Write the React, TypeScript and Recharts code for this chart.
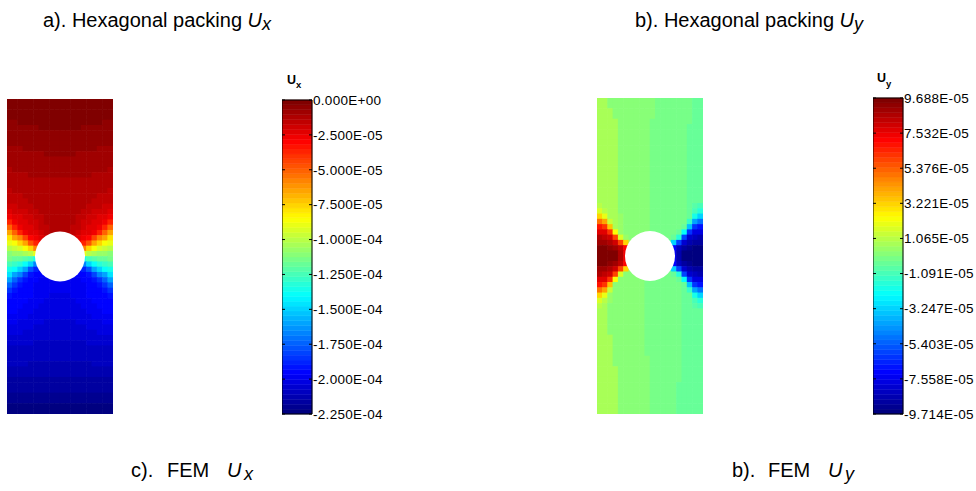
import React from 'react';
import { ScatterChart, Scatter, XAxis, YAxis, ReferenceArea } from 'recharts';

const _ = null;

// jet colour level (0 = darkest blue, 63 = darkest red) of every mesh cell, top row first
const uxLevels: (number | null)[][] = [
  [63,63,63,63,63,63,63,63,63,63,63,63,63,63,63,63,63,63,63,63],
  [63,63,63,63,63,63,63,63,63,63,63,63,63,63,63,63,63,63,63,63],
  [63,63,63,63,63,63,63,63,63,63,63,63,63,63,63,63,63,63,63,63],
  [63,63,63,63,63,63,63,63,63,63,63,63,63,63,63,63,63,63,63,63],
  [62,62,63,63,63,63,63,63,63,63,63,63,63,63,63,63,63,63,62,62],
  [62,62,62,62,62,62,63,63,63,63,63,63,63,63,62,62,62,62,62,62],
  [62,62,62,62,62,62,62,62,62,62,62,62,62,62,62,62,62,62,62,62],
  [62,62,62,62,62,62,62,62,62,62,62,62,62,62,62,62,62,62,62,62],
  [62,62,62,62,62,62,62,62,62,62,62,62,62,62,62,62,62,62,62,62],
  [61,61,61,62,62,62,62,62,62,62,62,62,62,62,62,62,62,61,61,61],
  [61,61,61,61,61,61,61,62,62,62,62,62,62,61,61,61,61,61,61,61],
  [61,61,61,61,61,61,61,61,61,61,61,61,61,61,61,61,61,61,61,61],
  [61,61,61,61,61,61,61,61,61,61,61,61,61,61,61,61,61,61,61,61],
  [60,61,61,61,61,61,61,61,61,61,61,61,61,61,61,61,61,61,61,60],
  [60,60,60,60,61,61,61,61,61,61,61,61,61,61,61,61,60,60,60,60],
  [60,60,60,60,60,60,60,60,60,60,60,60,60,60,60,60,60,60,60,60],
  [60,60,60,60,60,60,60,60,60,60,60,60,60,60,60,60,60,60,60,60],
  [59,60,60,60,60,60,60,60,60,60,60,60,60,60,60,60,60,60,60,59],
  [59,59,59,60,60,60,60,60,60,60,60,60,60,60,60,60,60,59,59,59],
  [59,59,59,59,60,60,60,60,60,60,60,60,60,60,60,60,59,59,59,59],
  [58,58,59,59,59,60,60,60,60,60,60,60,60,60,60,59,59,59,58,58],
  [57,58,58,58,59,59,60,60,60,60,60,60,60,60,59,59,58,58,58,57],
  [56,57,57,58,58,59,59,60,60,60,60,60,60,59,59,58,58,57,57,56],
  [53,56,57,57,58,58,59,60,60,60,60,60,60,59,58,58,57,57,56,53],
  [49,53,56,57,57,58,59,59,60,60,60,60,59,59,58,57,57,56,53,49],
  [45,49,53,56,57,57,58,59,60,60,60,60,59,58,57,57,56,53,49,45],
  [41,45,47,51,55,56,57,58, _, _, _, _,58,57,56,55,51,47,45,41],
  [38,39,42,45,50,53,55, _, _, _, _, _, _,55,53,50,45,42,39,38],
  [35,36,37,39,42,47, _, _, _, _, _, _, _, _,47,42,39,37,36,35],
  [32,33,33,34,35,38, _, _, _, _, _, _, _, _,38,35,34,33,33,32],
  [31,30,30,29,28,25, _, _, _, _, _, _, _, _,25,28,29,30,30,31],
  [28,27,26,24,21,16, _, _, _, _, _, _, _, _,16,21,24,26,27,28],
  [25,24,21,18,13,10, 8, _, _, _, _, _, _, 8,10,13,18,21,24,25],
  [22,18,16,12, 9, 8, 8, 7, _, _, _, _, 7, 8, 8, 9,12,16,18,22],
  [18,14,11, 9, 8, 8, 7, 7, 7, 7, 7, 7, 7, 7, 8, 8, 9,11,14,18],
  [14,11, 9, 8, 8, 7, 7, 7, 7, 7, 7, 7, 7, 7, 7, 8, 8, 9,11,14],
  [11, 9, 8, 8, 8, 7, 7, 7, 7, 7, 7, 7, 7, 7, 7, 8, 8, 8, 9,11],
  [ 9, 8, 8, 8, 8, 7, 7, 7, 6, 6, 6, 6, 7, 7, 7, 8, 8, 8, 8, 9],
  [ 8, 8, 8, 8, 7, 7, 7, 6, 6, 6, 6, 6, 6, 7, 7, 7, 8, 8, 8, 8],
  [ 8, 8, 8, 7, 7, 7, 6, 6, 6, 6, 6, 6, 6, 6, 7, 7, 7, 8, 8, 8],
  [ 8, 8, 7, 7, 7, 6, 6, 6, 6, 6, 6, 6, 6, 6, 6, 7, 7, 7, 8, 8],
  [ 7, 7, 7, 7, 6, 6, 6, 6, 6, 6, 6, 6, 6, 6, 6, 6, 7, 7, 7, 7],
  [ 7, 7, 6, 6, 6, 6, 6, 5, 5, 5, 5, 5, 5, 6, 6, 6, 6, 6, 7, 7],
  [ 6, 6, 6, 6, 6, 5, 5, 5, 5, 5, 5, 5, 5, 5, 5, 6, 6, 6, 6, 6],
  [ 6, 6, 6, 5, 5, 5, 5, 5, 5, 5, 5, 5, 5, 5, 5, 5, 5, 6, 6, 6],
  [ 5, 5, 5, 5, 5, 5, 5, 5, 5, 5, 5, 5, 5, 5, 5, 5, 5, 5, 5, 5],
  [ 5, 5, 5, 5, 5, 4, 4, 4, 4, 4, 4, 4, 4, 4, 4, 5, 5, 5, 5, 5],
  [ 4, 4, 4, 4, 4, 4, 4, 4, 4, 4, 4, 4, 4, 4, 4, 4, 4, 4, 4, 4],
  [ 4, 4, 4, 4, 4, 4, 4, 4, 4, 4, 4, 4, 4, 4, 4, 4, 4, 4, 4, 4],
  [ 4, 4, 4, 4, 4, 4, 4, 4, 4, 4, 4, 4, 4, 4, 4, 4, 4, 4, 4, 4],
  [ 4, 4, 4, 4, 3, 3, 3, 3, 3, 3, 3, 3, 3, 3, 3, 3, 4, 4, 4, 4],
  [ 3, 3, 3, 3, 3, 3, 3, 3, 3, 3, 3, 3, 3, 3, 3, 3, 3, 3, 3, 3],
  [ 3, 3, 3, 3, 3, 3, 3, 3, 3, 3, 3, 3, 3, 3, 3, 3, 3, 3, 3, 3],
  [ 2, 2, 2, 2, 2, 2, 2, 2, 2, 2, 2, 2, 2, 2, 2, 2, 2, 2, 2, 2],
  [ 2, 2, 2, 2, 2, 2, 2, 2, 2, 2, 2, 2, 2, 2, 2, 2, 2, 2, 2, 2],
  [ 2, 2, 2, 2, 2, 2, 2, 2, 2, 2, 2, 2, 2, 2, 2, 2, 2, 2, 2, 2],
  [ 1, 1, 1, 1, 1, 1, 1, 1, 1, 1, 1, 1, 1, 1, 1, 1, 1, 1, 1, 1],
  [ 1, 1, 1, 1, 1, 1, 1, 1, 1, 1, 1, 1, 1, 1, 1, 1, 1, 1, 1, 1],
  [ 0, 0, 0, 0, 0, 0, 0, 0, 0, 0, 0, 0, 0, 0, 0, 0, 0, 0, 0, 0],
  [ 0, 0, 0, 0, 0, 0, 0, 0, 0, 0, 0, 0, 0, 0, 0, 0, 0, 0, 0, 0],
];

const uyLevels: (number | null)[][] = [
  [34,34,32,32,32,32,32,32,32,32,32,31,31,31,31,31,31,31,30,30],
  [34,34,32,32,32,32,32,32,32,32,32,31,31,31,31,31,31,31,30,30],
  [34,34,34,32,32,32,32,32,32,32,32,31,31,31,31,31,31,31,30,30],
  [34,34,34,32,32,32,32,32,32,32,32,31,31,31,31,31,31,31,30,30],
  [34,34,34,34,32,32,32,32,32,32,31,31,31,31,31,31,31,31,30,30],
  [34,34,34,34,32,32,32,32,32,32,31,31,31,31,31,31,31,30,30,30],
  [34,34,34,34,32,32,32,32,32,32,31,31,31,31,31,31,31,30,30,30],
  [34,34,34,34,32,32,32,32,32,32,31,31,31,31,31,31,31,30,30,30],
  [34,34,34,34,32,32,32,32,32,32,31,31,31,31,31,31,31,30,30,30],
  [34,34,34,34,32,32,32,32,32,32,31,31,31,31,31,31,31,30,30,30],
  [34,34,34,34,32,32,32,32,32,32,31,31,31,31,31,31,31,30,30,30],
  [34,34,34,34,32,32,32,32,32,32,31,31,31,31,31,31,31,30,30,30],
  [34,34,34,34,32,32,32,32,32,32,31,31,31,31,31,31,31,30,30,30],
  [34,34,34,34,32,32,32,32,32,32,31,31,31,31,31,31,31,30,30,30],
  [34,34,34,34,32,32,32,32,32,32,31,31,31,31,31,31,31,30,30,30],
  [34,34,34,34,32,32,32,32,32,32,31,31,31,31,31,31,31,30,30,30],
  [34,34,34,34,32,32,32,32,32,32,31,31,31,31,31,31,31,30,30,30],
  [34,34,34,34,32,32,32,32,32,32,31,31,31,31,31,31,31,30,30,30],
  [34,34,34,34,32,32,32,32,32,32,31,31,31,31,31,31,31,30,30,30],
  [34,34,34,34,32,32,32,32,32,32,31,31,31,31,31,31,31,30,30,30],
  [35,34,34,34,32,32,32,32,32,32,31,31,31,31,31,31,31,30,29,28],
  [37,35,34,34,32,32,32,32,32,32,31,31,31,31,31,31,31,30,28,26],
  [42,38,34,34,33,32,32,32,32,32,31,31,31,31,31,31,31,30,25,21],
  [48,45,36,34,33,32,32,32,32,32,31,31,31,31,31,31,31,27,18,15],
  [54,52,43,34,33,32,32,32,32,32,31,31,31,31,31,31,30,20,11, 9],
  [57,57,52,39,33,32,32,32,32,32,31,31,31,31,31,30,24,11, 6, 6],
  [60,59,58,51,37,33,32,32, _, _, _, _,31,31,30,26,12, 5, 4, 3],
  [61,61,60,58,51,42,33, _, _, _, _, _, _,30,21,12, 5, 3, 2, 2],
  [63,63,62,61,59,55, _, _, _, _, _, _, _, _, 8, 4, 2, 1, 0, 0],
  [63,63,63,63,60,56, _, _, _, _, _, _, _, _, 7, 3, 0, 0, 0, 0],
  [63,63,63,63,60,56, _, _, _, _, _, _, _, _, 7, 3, 0, 0, 0, 0],
  [63,63,62,61,59,55, _, _, _, _, _, _, _, _, 8, 4, 2, 1, 0, 0],
  [61,61,60,58,51,42,33, _, _, _, _, _, _,30,21,12, 5, 3, 2, 2],
  [60,59,58,51,37,32,32,32, _, _, _, _,31,31,30,26,12, 5, 4, 3],
  [57,57,52,39,32,32,32,32,32,31,31,31,31,31,31,30,24,11, 6, 6],
  [54,52,43,32,32,32,32,32,32,31,31,31,31,31,31,31,30,20,11, 9],
  [48,45,36,32,32,32,32,32,32,31,31,31,31,31,31,31,30,27,18,15],
  [42,38,33,32,32,32,32,32,32,31,31,31,31,31,31,31,30,30,25,21],
  [37,35,33,32,32,32,32,32,32,31,31,31,31,31,31,31,30,30,28,26],
  [35,34,32,32,32,32,32,32,32,31,31,31,31,31,31,31,30,30,29,28],
  [34,34,32,32,32,32,32,32,32,31,31,31,31,31,31,31,30,30,30,30],
  [34,34,32,32,32,32,32,32,32,31,31,31,31,31,31,31,30,30,30,30],
  [34,34,32,32,32,32,32,32,32,31,31,31,31,31,31,31,30,30,30,30],
  [34,34,32,32,32,32,32,32,32,31,31,31,31,31,31,31,30,30,30,30],
  [34,34,32,32,32,32,32,32,32,31,31,31,31,31,31,31,30,30,30,30],
  [34,34,34,32,32,32,32,32,32,31,31,31,31,31,31,31,30,30,30,30],
  [34,34,34,32,32,32,32,32,32,31,31,31,31,31,31,31,30,30,30,30],
  [34,34,34,32,32,32,32,32,32,31,31,31,31,31,31,31,30,30,30,30],
  [34,34,34,32,32,32,32,32,32,31,31,31,31,31,31,31,30,30,30,30],
  [34,34,34,32,32,32,32,32,32,32,31,31,31,31,31,31,30,30,30,30],
  [34,34,34,32,32,32,32,32,32,32,31,31,31,31,31,31,30,30,30,30],
  [34,34,34,34,32,32,32,32,32,32,31,31,31,31,31,31,30,30,30,30],
  [34,34,34,34,32,32,32,32,32,32,31,31,31,31,31,31,30,30,30,30],
  [34,34,34,34,32,32,32,32,32,32,31,31,31,31,31,31,30,30,30,30],
  [34,34,34,34,32,32,32,32,32,32,31,31,31,31,31,30,30,30,30,30],
  [34,34,34,34,32,32,32,32,32,32,31,31,31,31,31,30,30,30,30,30],
  [34,34,34,34,32,32,32,32,32,32,31,31,31,31,31,30,30,30,30,30],
  [34,34,34,34,32,32,32,32,32,32,31,31,31,31,31,30,30,30,30,30],
  [34,34,34,34,32,32,32,32,32,32,31,31,31,31,31,30,30,30,30,30],
  [34,34,34,34,32,32,32,32,32,32,31,31,31,31,31,30,30,30,30,30],
];

const uxRange: [number, number] = [-2.25e-4, 0];
const uyRange: [number, number] = [-9.714e-5, 9.688e-5];
const uxTicks = [0, -2.5e-5, -5.0e-5, -7.5e-5, -1.0e-4, -1.25e-4, -1.5e-4, -1.75e-4, -2.0e-4, -2.25e-4];
const uyTicks = [9.688e-5, 7.532e-5, 5.376e-5, 3.221e-5, 1.065e-5, -1.091e-5, -3.247e-5, -5.403e-5, -7.558e-5, -9.714e-5];

const LEVELS = 64;
const COLS = 20;
const ROWS = 60;
// hole centre and radius, in mesh cells
const hole = { x: 10, y: 30, r: 4.72 };

const FONT = '"Liberation Sans", Arial, Helvetica, sans-serif';
const BAR_W = 30;

const jet = (t: number) => {
  const ch = (v: number) => Math.round(255 * Math.min(1, Math.max(0, v)));
  return `rgb(${ch(1.5 - Math.abs(4 * t - 3))},${ch(1.5 - Math.abs(4 * t - 2))},${ch(1.5 - Math.abs(4 * t - 1))})`;
};
const levelColor = (level: number) => jet(level / (LEVELS - 1));

const sci = (v: number) => {
  const [m, e] = v.toExponential(3).split('e');
  const n = Number(e);
  return `${m}E${n < 0 ? '-' : '+'}${String(Math.abs(n)).padStart(2, '0')}`;
};

const Field = ({ levels, width, height }: { levels: (number | null)[][]; width: number; height: number }) => {
  const cw = width / COLS;
  const chH = height / ROWS;
  const cells: { x: number; y: number; level: number }[] = [];
  levels.forEach((row, r) =>
    row.forEach((level, c) => {
      if (level !== null) cells.push({ x: c + 0.5, y: r + 0.5, level });
    })
  );
  const cellShape = (p: any) => (
    <rect
      x={p.cx - cw / 2 - 0.3}
      y={p.cy - chH / 2 - 0.3}
      width={cw + 0.6}
      height={chH + 0.6}
      fill={levelColor(p.payload.level)}
    />
  );
  const holeShape = (p: any) => <circle cx={p.cx} cy={p.cy} r={hole.r * cw} fill="#fff" />;
  return (
    <ScatterChart width={width} height={height} margin={{ top: 0, right: 0, bottom: 0, left: 0 }}>
      <XAxis type="number" dataKey="x" domain={[0, COLS]} hide />
      <YAxis type="number" dataKey="y" domain={[0, ROWS]} reversed hide />
      <Scatter data={cells} shape={cellShape} isAnimationActive={false} />
      <Scatter data={[hole]} shape={holeShape} isAnimationActive={false} />
    </ScatterChart>
  );
};

const Colorbar = ({ range, ticks, height }: { range: [number, number]; ticks: number[]; height: number }) => {
  const [lo, hi] = range;
  const step = (hi - lo) / LEVELS;
  const bands = Array.from({ length: LEVELS }, (__, i) => i);
  const ends = [{ x: 0, y: lo }, { x: 1, y: hi }];
  const tick = (p: any) => {
    const left = p.x - 1 - BAR_W;
    return (
      <g>
        <line x1={left} x2={left + 3} y1={p.y} y2={p.y} stroke="#000" strokeWidth={1} />
        <line x1={p.x - 4} x2={p.x - 1} y1={p.y} y2={p.y} stroke="#000" strokeWidth={1} />
        <text x={p.x} y={p.y} dy="0.355em" fontSize={13.5} letterSpacing={0.3} fontFamily={FONT} fill="#000">
          {sci(p.payload.value)}
        </text>
      </g>
    );
  };
  return (
    <ScatterChart width={BAR_W + 80} height={height + 20} margin={{ top: 10, right: 0, bottom: 10, left: 0 }}>
      <XAxis type="number" dataKey="x" domain={[0, 1]} hide />
      <YAxis
        type="number"
        dataKey="y"
        orientation="right"
        domain={[lo, hi]}
        ticks={ticks}
        interval={0}
        width={80}
        axisLine={false}
        tickLine={false}
        tickSize={0}
        tickMargin={1}
        tick={tick}
      />
      <Scatter data={ends} shape={() => <g />} isAnimationActive={false} />
      {bands.map((i) => (
        <ReferenceArea
          key={i}
          x1={0}
          x2={1}
          y1={lo + i * step}
          y2={lo + (i + 1) * step}
          fill={levelColor(i)}
          fillOpacity={1}
          stroke={levelColor(i)}
          strokeWidth={0.5}
        />
      ))}
      <ReferenceArea x1={0} x2={1} y1={lo} y2={hi} fill="none" stroke="#000" strokeWidth={1} />
    </ScatterChart>
  );
};

const abs = (left: number, top: number): React.CSSProperties => ({ position: 'absolute', left, top });

export default function App() {
  return (
    <div style={{ position: 'absolute', left: 0, top: 0, width: 976, height: 491, background: '#fff', overflow: 'hidden' }}>
      <div style={abs(7, 99)}>
        <Field levels={uxLevels} width={106} height={315} />
      </div>
      <div style={abs(282, 90)}>
        <Colorbar range={uxRange} ticks={uxTicks} height={314} />
      </div>
      <div style={abs(597, 98)}>
        <Field levels={uyLevels} width={106} height={316} />
      </div>
      <div style={abs(873, 88)}>
        <Colorbar range={uyRange} ticks={uyTicks} height={316} />
      </div>
      <svg width={976} height={491} style={{ position: 'absolute', left: 0, top: 0, pointerEvents: 'none' }} fontFamily={FONT}>
        <text x={43} y={27} fontSize={20}>
          a). Hexagonal packing <tspan fontStyle="italic">U</tspan>
          <tspan fontStyle="italic" fontSize={18} dy={3}>x</tspan>
        </text>
        <text x={635} y={27} fontSize={20}>
          b). Hexagonal packing <tspan fontStyle="italic">U</tspan>
          <tspan fontStyle="italic" fontSize={18} dy={3}>y</tspan>
        </text>
        <text y={476.5} fontSize={20}>
          <tspan x={131}>c).</tspan>
          <tspan x={167}>FEM</tspan>
          <tspan x={227} fontStyle="italic">U</tspan>
          <tspan x={244} dy={3} fontStyle="italic" fontSize={18}>x</tspan>
        </text>
        <text y={476.5} fontSize={20}>
          <tspan x={732}>b).</tspan>
          <tspan x={768}>FEM</tspan>
          <tspan x={828} fontStyle="italic">U</tspan>
          <tspan x={845} dy={3} fontStyle="italic" fontSize={18}>y</tspan>
        </text>
        <text x={287} y={84} fontSize={12.5} fontWeight="bold">
          U<tspan fontSize={9.5} dy={4}>x</tspan>
        </text>
        <text x={877} y={82} fontSize={12.5} fontWeight="bold">
          U<tspan fontSize={9.5} dy={5}>y</tspan>
        </text>
      </svg>
    </div>
  );
}
